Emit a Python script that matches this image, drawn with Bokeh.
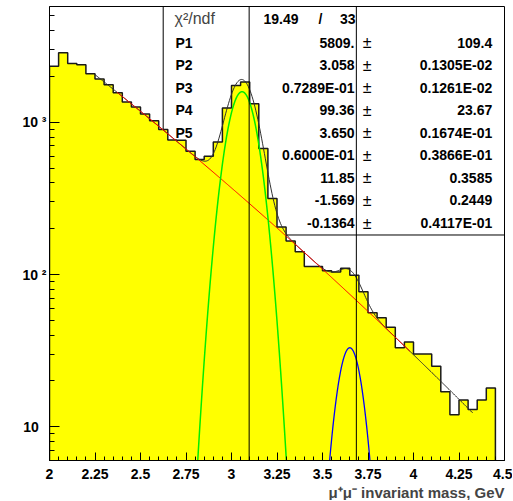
import numpy as np
from bokeh.plotting import figure
from bokeh.models import FixedTicker, Title, Range1d, Span, CustomJSTickFormatter
from bokeh.core.properties import value
from bokeh.embed import file_html
from bokeh.resources import INLINE

# ---------------- data ----------------
bin_start = 2.0
bin_width = 0.05
counts = [2340, 2867, 2438, 2391, 2087, 1924, 1768, 1566, 1359, 1260,
          1134, 1026, 896, 765, 762, 645, 569, 598, 743, 1241,
          1749, 1838, 1326, 672, 316, 205, 166, 141, 113, 113,
          106, 104, 110, 99, 77, 56, 52, 45, 33, 36,
          30, 30, 25, 17, 12, 15, 13, 15, 18]

# fit parameters (as displayed)
par_labels = ["P1", "P2", "P3", "P4", "P5"]
par_values = [5809.0, 3.058, 0.07289, 99.36, 3.650, 0.06000, 11.85, -1.569, -0.1364]
par_value_text = ["5809.", "3.058", "0.7289E-01", "99.36", "3.650", "0.6000E-01",
                  "11.85", "-1.569", "-0.1364"]
par_error_text = ["109.4", "0.1305E-02", "0.1261E-02", "23.67", "0.1674E-01",
                  "0.3866E-01", "0.3585", "0.2449", "0.4117E-01"]
chi2_text = "19.49"
ndf_text = "33"

# nominal resonance masses (vertical markers)
marker_masses = [3.097, 3.686]

# function ranges
total_range = [2.25, 4.325]
bkg_range = [2.37, 3.98]
jpsi_range = [2.78, 3.34]
psi2_range = [3.50, 3.80]

x_ticks = [2.0, 2.25, 2.5, 2.75, 3.0, 3.25, 3.5, 3.75, 4.0, 4.25, 4.5]
y_ticks = [10, 100, 1000]

# ---------------- derived ----------------
XMIN, XMAX = 2.0, 4.5
YMIN, YMAX = 6.0, 5770.0
FONT = "Liberation Sans"

n = len(counts)
edges = bin_start + bin_width * np.arange(n + 1)

P = par_values

def bkg(x):
    return np.exp(P[6] + P[7] * x + P[8] * x * x)

def gaus(x, norm, mean, sigma):
    return norm * bin_width / (np.sqrt(2 * np.pi) * sigma) * np.exp(-0.5 * ((x - mean) / sigma) ** 2)

def total(x):
    return bkg(x) + gaus(x, P[0], P[1], P[2]) + gaus(x, P[3], P[4], P[5])

# helpers to place annotation text (fractions of the frame)
def fx(f):
    return XMIN + f * (XMAX - XMIN)

def fy(f):
    lo, hi = np.log10(YMIN), np.log10(YMAX)
    return 10 ** (lo + f * (hi - lo))

p = figure(width=512, height=500, y_axis_type="log",
           x_range=Range1d(XMIN, XMAX), y_range=Range1d(YMIN, YMAX),
           output_backend="svg", toolbar_location=None,
           min_border_left=49, min_border_right=8, min_border_top=6, min_border_bottom=39)
p.title.text = ""
p.grid.visible = False
p.outline_line_color = "black"
p.outline_line_width = 1
p.background_fill_color = "white"
p.border_fill_color = "white"

# ---- stat box (drawn under the histogram) ----
box_left = fx((162.7 - 49) / 455)
box_bottom = fy((461 - 235) / 455)
p.line(x=[box_left, box_left], y=[box_bottom, YMAX], line_color="black", line_width=1)
p.line(x=[box_left, XMAX], y=[box_bottom, box_bottom], line_color="black", line_width=1)

row_f = [(461 - (42.2 + 22.6 * i)) / 455 for i in range(9)]
chi_f = (461 - 18.5) / 455

p.text(x=[fx((174 - 49) / 455)], y=[fy(chi_f)], text=["\u03c7\u00b2/ndf"],
       text_font=value(FONT), text_font_size="16px", text_color="#444444",
       text_align="left", text_baseline="middle")
p.text(x=[fx((298 - 49) / 455)], y=[fy(chi_f)], text=[chi2_text],
       text_font=value(FONT), text_font_size="14px", text_font_style="bold",
       text_align="right", text_baseline="middle")
p.text(x=[fx((320 - 49) / 455)], y=[fy(chi_f)], text=["/"],
       text_font=value(FONT), text_font_size="14px", text_font_style="bold",
       text_align="center", text_baseline="middle")
p.text(x=[fx((355 - 49) / 455)], y=[fy(chi_f)], text=[ndf_text],
       text_font=value(FONT), text_font_size="14px", text_font_style="bold",
       text_align="right", text_baseline="middle")

p.text(x=[fx((175 - 49) / 455)] * len(par_labels), y=[fy(f) for f in row_f[:len(par_labels)]],
       text=par_labels, text_font=value(FONT), text_font_size="14px", text_font_style="bold",
       text_align="left", text_baseline="middle")
p.text(x=[fx((354 - 49) / 455)] * 9, y=[fy(f) for f in row_f], text=par_value_text,
       text_font=value(FONT), text_font_size="14px", text_font_style="bold",
       text_align="right", text_baseline="middle")
p.text(x=[fx((366.7 - 49) / 455)] * 9, y=[fy(f) for f in row_f], text=["\u00b1"] * 9,
       text_font=value(FONT), text_font_size="16px",
       text_align="center", text_baseline="middle")
p.text(x=[fx((491.7 - 49) / 455)] * 9, y=[fy(f) for f in row_f], text=par_error_text,
       text_font=value(FONT), text_font_size="14px", text_font_style="bold",
       text_align="right", text_baseline="middle")

# ---- histogram (single filled step polygon + outline) ----
hbottom = 1.0
xs = [edges[0]]
ys = [hbottom]
for i, c in enumerate(counts):
    xs += [edges[i], edges[i + 1]]
    ys += [c, c]
xs.append(edges[-1])
ys.append(hbottom)
p.patch(x=xs, y=ys, fill_color="#ffff00", line_color=None)
p.line(x=xs, y=ys, line_color="#1a1a1a", line_width=1.5)

# ---- fit functions ----
xt = np.linspace(total_range[0], total_range[1], 400)
p.line(x=xt, y=total(xt), line_color="#303030", line_width=1)
xb = np.linspace(bkg_range[0], bkg_range[1], 300)
p.line(x=xb, y=bkg(xb), line_color="#ff0000", line_width=1)
xj = np.linspace(jpsi_range[0], jpsi_range[1], 300)
p.line(x=xj, y=gaus(xj, P[0], P[1], P[2]), line_color="#00ee00", line_width=1.5)
xp = np.linspace(psi2_range[0], psi2_range[1], 200)
p.line(x=xp, y=gaus(xp, P[3], P[4], P[5]), line_color="#0000ff", line_width=1.3)

for m in marker_masses:
    p.add_layout(Span(location=m, dimension="height", line_color="black", line_width=1))

# ---- axes ----
minor_x = list(np.round(np.arange(2.0, 4.5001, 0.05), 4))
p.xaxis.ticker = FixedTicker(ticks=x_ticks, minor_ticks=minor_x)
p.xaxis.formatter = CustomJSTickFormatter(code="return tick.toString()")
minor_y = [m * d for d in (1, 10, 100, 1000) for m in range(2, 10) if YMIN <= m * d <= YMAX]
p.yaxis.ticker = FixedTicker(ticks=y_ticks, minor_ticks=minor_y)
p.yaxis.formatter = CustomJSTickFormatter(
    code="if (tick >= 999) {return '10 \\u00b3'} else if (tick >= 99) {return '10 \\u00b2'} else {return '10\\u2007'}")

for ax in (p.xaxis[0], p.yaxis[0]):
    ax.axis_line_color = "black"
    ax.major_tick_line_color = "black"
    ax.minor_tick_line_color = "black"
    ax.major_tick_out = 0
    ax.minor_tick_out = 0
    ax.major_label_text_font = FONT
    ax.major_label_text_font_style = "bold"
    ax.major_label_text_font_size = "14px"
    ax.major_label_text_color = "black"
p.xaxis.major_tick_in = 8
p.xaxis.minor_tick_in = 4
p.yaxis.major_tick_in = 10
p.yaxis.minor_tick_in = 5
p.xaxis.major_label_standoff = 8
p.yaxis.major_label_standoff = 3

xlabel = Title(text="\u03bc\u207a\u03bc\u207b invariant mass, GeV", align="right",
               text_font=FONT, text_font_size="15px", text_font_style="bold",
               standoff=0, offset=0)
p.add_layout(xlabel, "below")

open("out.html", "w").write(file_html(p, INLINE))
